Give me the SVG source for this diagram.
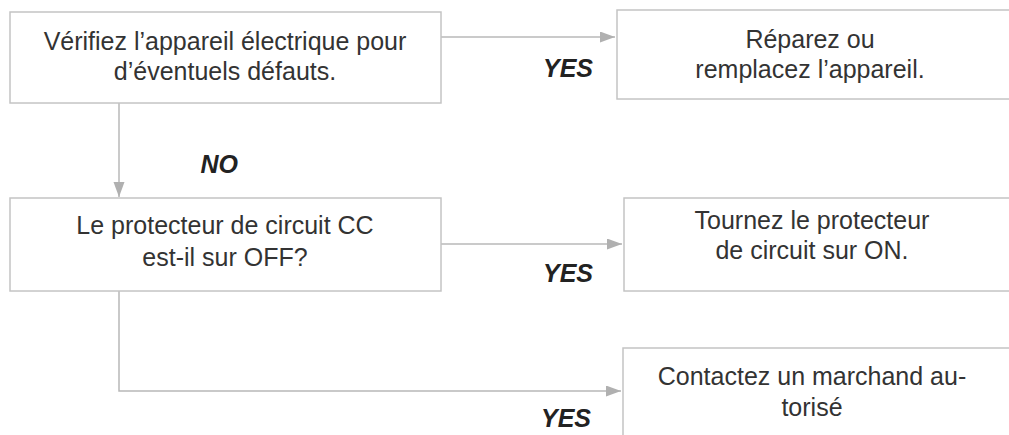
<svg xmlns="http://www.w3.org/2000/svg" width="1009" height="435" viewBox="0 0 1009 435">
<style>
.box{fill:#ffffff;stroke:#c4c4c4;stroke-width:1.5}
.t{font-family:"Liberation Sans",Arial,sans-serif;font-size:25px;fill:#333333;text-anchor:middle}
.lbl{font-family:"Liberation Sans",Arial,sans-serif;font-size:25px;font-weight:bold;font-style:italic;fill:#222222;text-anchor:end}
.c{fill:none;stroke:#b8b8b8;stroke-width:1.5}
</style>
<defs>
<marker id="ah" markerUnits="userSpaceOnUse" markerWidth="16" markerHeight="12" refX="15" refY="5.5" orient="auto">
<path d="M0,0 L15,5.5 L0,11 Z" fill="#b0b0b0"/>
</marker>
</defs>
<rect width="1009" height="435" fill="#ffffff"/>
<g id="connectors">
<line class="c" x1="441" y1="37" x2="615" y2="37" marker-end="url(#ah)"/>
<line class="c" x1="119" y1="103" x2="119" y2="197" marker-end="url(#ah)"/>
<line class="c" x1="441" y1="244" x2="622" y2="244" marker-end="url(#ah)"/>
<polyline class="c" points="119,291 119,391 621,391" marker-end="url(#ah)"/>
<text class="lbl" x="593" y="77">YES</text>
<text class="lbl" x="238" y="173">NO</text>
<text class="lbl" x="593" y="282">YES</text>
<text class="lbl" x="591" y="427">YES</text>
</g>
<g id="n1">
<rect class="box" x="10" y="12" width="431" height="91"/>
<text class="t" x="225" y="50">Vérifiez l’appareil électrique pour</text>
<text class="t" x="225" y="80">d’éventuels défauts.</text>
</g>
<g id="n2">
<rect class="box" x="617" y="10" width="400" height="89"/>
<text class="t" x="810" y="48">Réparez ou</text>
<text class="t" x="810" y="78">remplacez l’appareil.</text>
</g>
<g id="n3">
<rect class="box" x="10" y="198" width="431" height="93"/>
<text class="t" x="225" y="234">Le protecteur de circuit CC</text>
<text class="t" x="225" y="266">est-il sur OFF?</text>
</g>
<g id="n4">
<rect class="box" x="624" y="198" width="400" height="93"/>
<text class="t" x="812" y="229">Tournez le protecteur</text>
<text class="t" x="812" y="259">de circuit sur ON.</text>
</g>
<g id="n5">
<rect class="box" x="623" y="348" width="400" height="100"/>
<text class="t" x="812" y="385">Contactez un marchand au-</text>
<text class="t" x="812" y="416">torisé</text>
</g>
</svg>
